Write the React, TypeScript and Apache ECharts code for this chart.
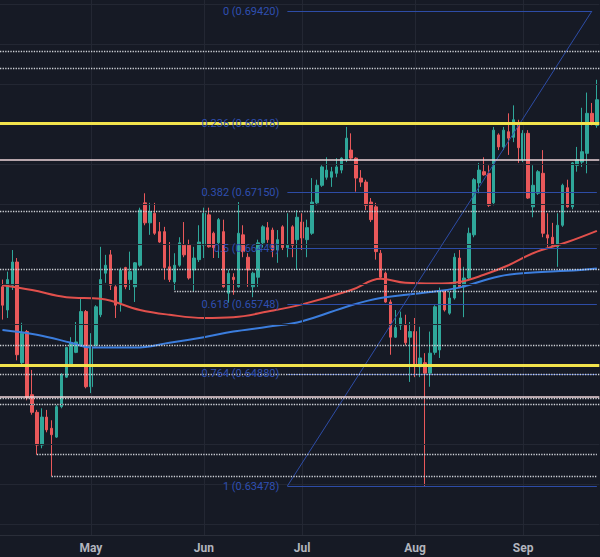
import React, { useEffect, useRef } from "react";
import * as echarts from "echarts";

// trading days (weekdays) shown on the chart
const startDate = "2024-04-05";
const endDate = "2024-09-23";
const monthNames = ["Jan", "Feb", "Mar", "Apr", "May", "Jun", "Jul", "Aug", "Sep", "Oct", "Nov", "Dec"];

// [open, close, low, high]
const ohlc: number[][] = [
  [0.6597, 0.6574, 0.6556, 0.6606],
  [0.6568, 0.6606, 0.6558, 0.6616],
  [0.6599, 0.6628, 0.6593, 0.6643],
  [0.6628, 0.6512, 0.6505, 0.6633],
  [0.6502, 0.6539, 0.6499, 0.6552],
  [0.6541, 0.6458, 0.6455, 0.6543],
  [0.6462, 0.644, 0.6437, 0.6493],
  [0.644, 0.6399, 0.6387, 0.6443],
  [0.6399, 0.6434, 0.6395, 0.6445],
  [0.6434, 0.6418, 0.6415, 0.6443],
  [0.642, 0.6412, 0.636, 0.643],
  [0.6409, 0.6447, 0.6408, 0.6449],
  [0.6447, 0.6487, 0.6445, 0.6489],
  [0.6484, 0.6521, 0.6483, 0.6522],
  [0.6499, 0.6527, 0.6497, 0.6534],
  [0.6515, 0.6528, 0.6514, 0.6553],
  [0.6524, 0.6566, 0.6522, 0.6584],
  [0.6566, 0.6472, 0.647, 0.6568],
  [0.6472, 0.6522, 0.6464, 0.6539],
  [0.6524, 0.6572, 0.6522, 0.6574],
  [0.6562, 0.6606, 0.6559, 0.6647],
  [0.6614, 0.6624, 0.6602, 0.6637],
  [0.6637, 0.6599, 0.6593, 0.6643],
  [0.6597, 0.6574, 0.6558, 0.6599],
  [0.6577, 0.6618, 0.6566, 0.6621],
  [0.6621, 0.6597, 0.6594, 0.6622],
  [0.6606, 0.6616, 0.6593, 0.6641],
  [0.6597, 0.6627, 0.6578, 0.6628],
  [0.6624, 0.6693, 0.6622, 0.6696],
  [0.6702, 0.6677, 0.6674, 0.6714],
  [0.6677, 0.6691, 0.6662, 0.6702],
  [0.6689, 0.6664, 0.6662, 0.6702],
  [0.6666, 0.6653, 0.6652, 0.6678],
  [0.6666, 0.6621, 0.6606, 0.6672],
  [0.6622, 0.6606, 0.6603, 0.6653],
  [0.6603, 0.6624, 0.6593, 0.6639],
  [0.6624, 0.6652, 0.6622, 0.6659],
  [0.6649, 0.6637, 0.6634, 0.6678],
  [0.6649, 0.6608, 0.6606, 0.6656],
  [0.6618, 0.6633, 0.6591, 0.6647],
  [0.6631, 0.6653, 0.6628, 0.6674],
  [0.6649, 0.6689, 0.6633, 0.6696],
  [0.6687, 0.6647, 0.6646, 0.6696],
  [0.6664, 0.6646, 0.6633, 0.6666],
  [0.6652, 0.6681, 0.6633, 0.6683],
  [0.6666, 0.6597, 0.6596, 0.6681],
  [0.6589, 0.6614, 0.6577, 0.6618],
  [0.6609, 0.6606, 0.6587, 0.6614],
  [0.6597, 0.6664, 0.6596, 0.6703],
  [0.6662, 0.6641, 0.6634, 0.6674],
  [0.6634, 0.6618, 0.6597, 0.6639],
  [0.6597, 0.6614, 0.6584, 0.6616],
  [0.6609, 0.6652, 0.6597, 0.6656],
  [0.6652, 0.6672, 0.6646, 0.6674],
  [0.6671, 0.6656, 0.6652, 0.6678],
  [0.6668, 0.6643, 0.6634, 0.6671],
  [0.6643, 0.6656, 0.6627, 0.6668],
  [0.6672, 0.6646, 0.6643, 0.6674],
  [0.6646, 0.6649, 0.6634, 0.6689],
  [0.6672, 0.6649, 0.6634, 0.6674],
  [0.6656, 0.6684, 0.6618, 0.6693],
  [0.6678, 0.6658, 0.6643, 0.6689],
  [0.6656, 0.6671, 0.6634, 0.6681],
  [0.6664, 0.6703, 0.6662, 0.6733],
  [0.6702, 0.6724, 0.6699, 0.6731],
  [0.6724, 0.6747, 0.6722, 0.6749],
  [0.6734, 0.6743, 0.6731, 0.6759],
  [0.6734, 0.6741, 0.6722, 0.6747],
  [0.6739, 0.6747, 0.6734, 0.6758],
  [0.6743, 0.6758, 0.6739, 0.6759],
  [0.6756, 0.6783, 0.6753, 0.6797],
  [0.6768, 0.6758, 0.6756, 0.6789],
  [0.6758, 0.6733, 0.6716, 0.6759],
  [0.6733, 0.6728, 0.6722, 0.6743],
  [0.6728, 0.6699, 0.6693, 0.6731],
  [0.6703, 0.6681, 0.6678, 0.6708],
  [0.6697, 0.6641, 0.6631, 0.6702],
  [0.6639, 0.6609, 0.6608, 0.6643],
  [0.6614, 0.6578, 0.6577, 0.6616],
  [0.6578, 0.6534, 0.6512, 0.6581],
  [0.6534, 0.6546, 0.6533, 0.6568],
  [0.6549, 0.6558, 0.6543, 0.6566],
  [0.6549, 0.6527, 0.6524, 0.6562],
  [0.6534, 0.6541, 0.6478, 0.6553],
  [0.6541, 0.6499, 0.6484, 0.6558],
  [0.6497, 0.6508, 0.6484, 0.6547],
  [0.6502, 0.6489, 0.6348, 0.6514],
  [0.6489, 0.6514, 0.6472, 0.6541],
  [0.6515, 0.6572, 0.6512, 0.6574],
  [0.6518, 0.6591, 0.6508, 0.6596],
  [0.6591, 0.6568, 0.6566, 0.6593],
  [0.6564, 0.6583, 0.6562, 0.6591],
  [0.6583, 0.6634, 0.6581, 0.6639],
  [0.6633, 0.6597, 0.6596, 0.6643],
  [0.6597, 0.6608, 0.6559, 0.6622],
  [0.6608, 0.6664, 0.6606, 0.6671],
  [0.6662, 0.6731, 0.6659, 0.6733],
  [0.6727, 0.6743, 0.6714, 0.6752],
  [0.6741, 0.6737, 0.6736, 0.6759],
  [0.6739, 0.6699, 0.6697, 0.6749],
  [0.6702, 0.6793, 0.6699, 0.6797],
  [0.6787, 0.6772, 0.6768, 0.6789],
  [0.6772, 0.6793, 0.6768, 0.6797],
  [0.6791, 0.6783, 0.6762, 0.6814],
  [0.6784, 0.6806, 0.6778, 0.6824],
  [0.6799, 0.6771, 0.6752, 0.6806],
  [0.6756, 0.6789, 0.6753, 0.6793],
  [0.6789, 0.6708, 0.6707, 0.6793],
  [0.6697, 0.6724, 0.6684, 0.6749],
  [0.6714, 0.6741, 0.6712, 0.6743],
  [0.6739, 0.6664, 0.6659, 0.6768],
  [0.6662, 0.6658, 0.6647, 0.6689],
  [0.6659, 0.6649, 0.6647, 0.6677],
  [0.6647, 0.6674, 0.6622, 0.6689],
  [0.6674, 0.6724, 0.6672, 0.6726],
  [0.6721, 0.6697, 0.6696, 0.6731],
  [0.6697, 0.6752, 0.6694, 0.6753],
  [0.6749, 0.6756, 0.6741, 0.6772],
  [0.6753, 0.6766, 0.6747, 0.6821],
  [0.6764, 0.6814, 0.6739, 0.684],
  [0.6814, 0.6802, 0.6799, 0.6827],
  [0.6799, 0.6831, 0.6796, 0.6856],
];

// moving averages read at sample bars: [barIndex, value]
const redMA: number[][] = [
  [0, 0.6599], [6, 0.6593], [13, 0.6584], [20, 0.6582], [28, 0.6568], [34, 0.6562],
  [41, 0.6558], [47, 0.6559], [54, 0.6566], [61, 0.6575], [71, 0.6593], [77, 0.6607],
  [82, 0.6602], [88, 0.6601], [93, 0.6603], [98, 0.6612], [103, 0.6624], [108, 0.6639],
  [115, 0.6653], [121, 0.6667],
];
const blueMA: number[][] = [
  [0, 0.6543], [7, 0.6537], [14, 0.6527], [18, 0.6521], [27, 0.6521], [34, 0.6527],
  [41, 0.6534], [47, 0.6541], [54, 0.6547], [61, 0.6554], [71, 0.6574], [77, 0.6583],
  [85, 0.6589], [93, 0.6596], [101, 0.661], [108, 0.6615], [115, 0.6617], [121, 0.662],
];

// Fibonacci retracement
const fibRatios = ["0", "0.236", "0.382", "0.5", "0.618", "0.764", "1"];
const fibPrices = [0.6942, 0.68018, 0.6715, 0.66449, 0.65748, 0.6488, 0.63478];
const fibStartBar = 58;
const fibEndBar = 120;

// horizontal levels
const yellowLevels = [0.6801, 0.6499];
const pinkLevels = [0.6756, 0.646];
const dottedLevels = [0.6892, 0.6871, 0.6692, 0.6619, 0.6524, 0.6487, 0.6457, 0.645];
const dottedRays: number[][] = [[35, 0.6591], [7, 0.6388], [10, 0.636]];

const gridPrices = [0.63, 0.635, 0.64, 0.645, 0.65, 0.655, 0.66, 0.665, 0.67, 0.675, 0.68, 0.685, 0.69, 0.695];
const yMin = 0.62865;
const yMax = 0.69558;

function tradingDays(start: string, end: string): string[] {
  const out: string[] = [];
  const d = new Date(start + "T00:00:00Z");
  const e = new Date(end + "T00:00:00Z");
  while (d <= e) {
    const wd = d.getUTCDay();
    if (wd !== 0 && wd !== 6) out.push(d.toISOString().slice(0, 10));
    d.setUTCDate(d.getUTCDate() + 1);
  }
  return out;
}

export default function App() {
  const ref = useRef<HTMLDivElement>(null);
  useEffect(() => {
    if (!ref.current) return;
    const chart = echarts.init(ref.current, undefined, { renderer: "svg" });
    const dates = tradingDays(startDate, endDate);
    const last = dates.length - 1;
    const monthStarts = dates
      .map((d, i) => (i > 0 && d.slice(5, 7) !== dates[i - 1].slice(5, 7) ? i : -1))
      .filter((i) => i >= 0);
    const monthSet = new Set(monthStarts);

    const gridLineStyle = { color: "#232733", width: 1, type: "solid" as const };
    const fibColor = "#2d4ca6";

    const fibData: any[] = fibPrices.map((p, i) => [
      {
        name: `${fibRatios[i]} (${p.toFixed(5)})`,
        coord: [fibStartBar, p],
        lineStyle: { color: fibColor, width: 1, type: "solid" },
      },
      { coord: [i === 0 ? fibEndBar : last, p] },
    ]);
    fibData.push([
      {
        name: "",
        coord: [fibStartBar, fibPrices[fibPrices.length - 1]],
        lineStyle: { color: fibColor, width: 1, type: "solid" },
        label: { show: false },
      },
      { coord: [fibEndBar, fibPrices[0]] },
    ]);

    const dotStyle = { color: "#cfd2d8", width: 1.3, type: "dotted" };
    const levelData: any[] = [];
    dottedLevels.forEach((v) => levelData.push({ yAxis: v, lineStyle: dotStyle }));
    dottedRays.forEach(([k, v]) =>
      levelData.push([{ coord: [k, v], lineStyle: dotStyle }, { coord: [last, v] }])
    );
    pinkLevels.forEach((v) =>
      levelData.push({ yAxis: v, lineStyle: { color: "#eed6da", width: 1.6, type: "solid" } })
    );
    yellowLevels.forEach((v) =>
      levelData.push({ yAxis: v, lineStyle: { color: "#f2e34c", width: 3, type: "solid" } })
    );

    const option: any = {
      animation: false,
      backgroundColor: "#161a25",
      grid: { left: -2.47, right: 0.67, top: 0, bottom: 22, containLabel: false },
      xAxis: {
        type: "category",
        data: dates,
        boundaryGap: true,
        axisLine: { show: true, lineStyle: { color: "#2a2e39", width: 1 } },
        axisTick: { show: false },
        splitLine: { show: false },
        axisLabel: {
          interval: (i: number) => monthSet.has(i),
          formatter: (v: string) => monthNames[parseInt(v.slice(5, 7), 10) - 1],
          color: "#b2b5be",
          fontSize: 12,
          fontWeight: "bold",
          fontFamily: "Roboto, sans-serif",
          margin: 7,
        },
      },
      yAxis: {
        type: "value",
        min: yMin,
        max: yMax,
        show: false,
        splitLine: { show: false },
      },
      series: [
        {
          name: "grid",
          type: "line",
          data: ohlc.map((d) => d[1]),
          showSymbol: false,
          symbol: "none",
          lineStyle: { opacity: 0 },
          silent: true,
          z: 1,
          markLine: {
            silent: true,
            precision: 6,
            symbol: ["none", "none"],
            label: { show: false },
            lineStyle: gridLineStyle,
            data: [
              ...gridPrices.map((v) => ({ yAxis: v })),
              ...monthStarts.map((i) => ({ xAxis: dates[i] })),
            ],
          },
        },
        {
          name: "AUDUSD",
          type: "candlestick",
          data: ohlc,
          barWidth: 3,
          z: 2,
          itemStyle: {
            color: "#2fa79a",
            color0: "#e9585a",
            borderColor: "#2fa79a",
            borderColor0: "#e9585a",
            borderWidth: 1,
          },
        },
        {
          name: "MA red",
          type: "line",
          data: redMA,
          smooth: 0.4,
          showSymbol: false,
          symbol: "none",
          lineStyle: { color: "#e1504c", width: 2 },
          z: 3,
          markLine: {
            silent: true,
            precision: 6,
            symbol: ["none", "none"],
            label: {
              show: true,
              position: "start",
              formatter: "{b}",
              color: "#2f4fb0",
              fontSize: 11,
              fontFamily: "Roboto, sans-serif",
              distance: 8,
            },
            data: fibData,
          },
        },
        {
          name: "MA blue",
          type: "line",
          data: blueMA,
          smooth: 0.4,
          showSymbol: false,
          symbol: "none",
          lineStyle: { color: "#3b7ddd", width: 2 },
          z: 4,
          markLine: {
            silent: true,
            precision: 6,
            symbol: ["none", "none"],
            label: { show: false },
            data: levelData,
          },
        },
      ],
    };
    chart.setOption(option);
    return () => chart.dispose();
  }, []);
  return (
    <div
      ref={ref}
      style={{ position: "fixed", left: 0, top: 0, width: 600, height: 557 }}
    />
  );
}
